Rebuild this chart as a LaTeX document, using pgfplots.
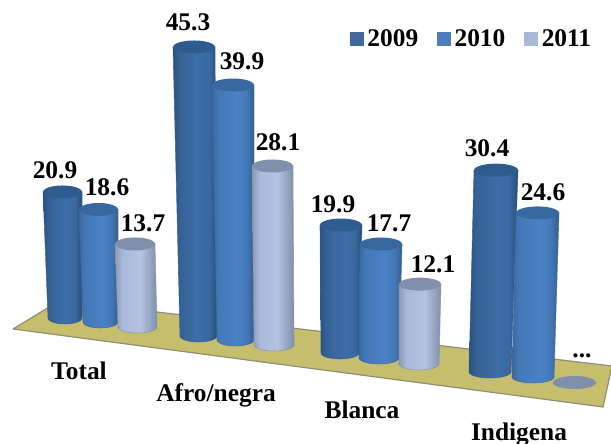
\documentclass[border=0pt]{standalone}
\usepackage{fontspec}
\setmainfont{Liberation Serif}
\usepackage{pgfplots}
\pgfplotsset{compat=1.18}
\definecolor{top09}{HTML}{2F5C90}
\definecolor{top10}{HTML}{39689E}
\definecolor{top11}{HTML}{7F8FAC}
\definecolor{leg09}{HTML}{41699B}
\definecolor{leg10}{HTML}{4E7EBB}
\definecolor{leg11}{HTML}{A9B9DA}
\definecolor{body09}{HTML}{3D6EA8}
\definecolor{body10}{HTML}{4A82C6}
\definecolor{floorc}{HTML}{C5BE6C}
\definecolor{flooredge}{HTML}{8F8F78}
\pgfdeclarehorizontalshading{cyl09}{100bp}{color(0bp)=(top09); color(25bp)=(top09!90!black); color(32bp)=(body09!88!black); color(52bp)=(body09); color(66bp)=(body09!95!black); color(75bp)=(top09!85!black); color(100bp)=(top09!85!black)}
\pgfdeclarehorizontalshading{cyl10}{100bp}{color(0bp)=(top10); color(25bp)=(top10); color(32bp)=(body10!92!black); color(55bp)=(body10); color(66bp)=(body10!93!black); color(75bp)=(top10!90!black); color(100bp)=(top10!90!black)}
\pgfdeclarehorizontalshading{cyl11}{100bp}{color(0bp)=(top11); color(25bp)=(top11!90!white); color(34bp)=(leg11); color(55bp)=(leg11!85!white); color(75bp)=(top11); color(100bp)=(top11)}
\newcommand{\lf}{\fontsize{25.5}{27}\selectfont\bfseries}
% #1 shading, #2 top colour, #3-#4 top left/right x, #5-#6 foot left/right x,
% #7 foot y (pixels from the top), #8 value, #9 pixels per unit of the group
\newcommand{\cyl}[9]{%
  \pgfmathsetmacro{\yb}{444-#7}%
  \pgfmathsetmacro{\yt}{\yb+#8*#9}%
  \pgfmathsetmacro{\cb}{(#5+#6)/2}\pgfmathsetmacro{\rb}{(#6-#5)/2}%
  \pgfmathsetmacro{\ct}{(#3+#4)/2}\pgfmathsetmacro{\rt}{(#4-#3)/2}%
  \xdef\pts{(#3,\yt)}%
  \foreach \a in {180,195,...,360}{%
    \pgfmathsetmacro{\px}{\cb+\rb*cos(\a)}\pgfmathsetmacro{\py}{\yb+6*sin(\a)}%
    \xdef\pts{\pts (\px,\py)}}%
  \xdef\pts{\pts (#4,\yt) (#3,\yt)}%
  \edef\doplot{\noexpand\addplot[draw=none,shade,shading=#1,forget plot] coordinates {\pts};}\doplot
  \edef\doplot{\noexpand\addplot[draw=#2,draw opacity=0.75,line width=0.6pt,forget plot] coordinates {\pts};}\doplot
  \xdef\pts{}%
  \foreach \a in {0,15,...,360}{%
    \pgfmathsetmacro{\px}{\ct+\rt*cos(\a)}\pgfmathsetmacro{\py}{\yt+6.5*sin(\a)}%
    \xdef\pts{\pts (\px,\py)}}%
  \edef\doplot{\noexpand\addplot[draw=none,fill=#2,forget plot] coordinates {\pts};}\doplot
}
\newcommand{\lab}[3]{\node[anchor=base,inner sep=0pt,font=\lf] at (axis cs:#1,{444-#2}) {#3};}
\begin{document}
\begin{tikzpicture}
\useasboundingbox (0,0) rectangle (611bp,444bp);
\begin{axis}[
  at={(0,0)},anchor=south west,
  width=611bp,height=444bp,scale only axis,
  xmin=0,xmax=611,ymin=0,ymax=444,
  hide axis,clip=false,
  legend columns=3,
  legend style={draw=none,fill=none,at={(axis cs:350,394)},anchor=south west,
    font=\lf,inner sep=0pt,outer sep=0pt,
    /tikz/every even column/.append style={column sep=17bp},
    /tikz/every odd column/.append style={column sep=2bp}},
  legend image code/.code={\fill[#1] (0bp,-6.5bp) rectangle (13bp,6.5bp);},
]
\addlegendimage{leg09}\addlegendentry{2009}
\addlegendimage{leg10}\addlegendentry{2010}
\addlegendimage{leg11}\addlegendentry{2011}
% floor
\addplot[fill=floorc,draw=flooredge,line width=1.2pt,forget plot] coordinates {(13,115) (60,143.5) (612,78) (603,37) (13,115)};
% Total
\cyl{cyl09}{top09}{43}{82}{48}{82}{318}{20.9}{6.03}
\cyl{cyl10}{top10}{79}{118}{83}{118}{322}{18.6}{6.05}
\cyl{cyl11}{top11}{115}{155}{118}{157}{327}{13.7}{6.06}
% Afro/negra
\cyl{cyl09}{top09}{173}{215}{180}{217}{336}{45.3}{6.38}
\cyl{cyl10}{top10}{212}{254}{217}{254}{340}{39.9}{6.39}
\cyl{cyl11}{top11}{252}{293}{254}{294}{345}{28.1}{6.37}
% Blanca
\cyl{cyl09}{top09}{320}{362}{321}{359}{353}{19.9}{6.43}
\cyl{cyl10}{top10}{360}{402}{359}{399}{358}{17.7}{6.44}
\cyl{cyl11}{top11}{399}{441}{399}{439}{364}{12.1}{6.6}
% Indigena
\cyl{cyl09}{top09}{474}{518}{469}{511}{372}{30.4}{6.64}
\cyl{cyl10}{top10}{516}{559}{512}{554}{377}{24.6}{6.67}
\cyl{cyl11}{top11}{553}{596}{553}{596}{382.5}{0}{6.65}
% value labels
\lab{55}{179}{20.9}
\lab{107}{196}{18.6}
\lab{143}{231.5}{13.7}
\lab{188}{31}{45.3}
\lab{242}{70}{39.9}
\lab{278}{151}{28.1}
\lab{333}{213}{19.9}
\lab{389}{232}{17.7}
\lab{433}{273}{12.1}
\lab{487}{157}{30.4}
\lab{543}{201}{24.6}
\lab{582}{358}{...}
% category labels
\lab{79}{380}{Total}
\lab{216}{402}{Afro/negra}
\lab{362}{418}{Blanca}
\lab{519}{440}{Indigena}
\end{axis}
\end{tikzpicture}
\end{document}
